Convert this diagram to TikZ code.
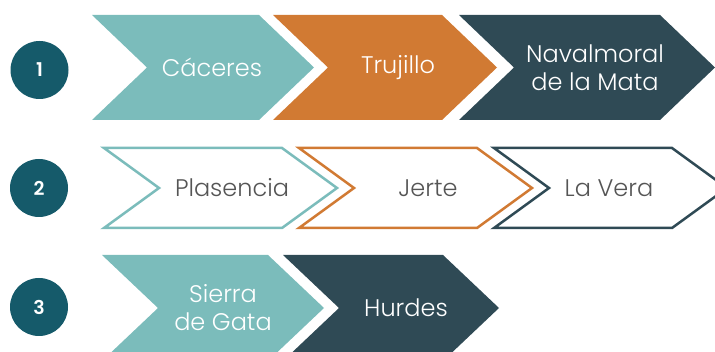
\documentclass[tikz,border=0pt]{standalone}
\usepackage{fontspec}
\setmainfont{Poppins}[UprightFont=* Light, BoldFont=* SemiBold]
\usepackage{tikz}

\definecolor{cteal}{HTML}{7BBCBB}
\definecolor{corange}{HTML}{D17A33}
\definecolor{cslate}{HTML}{2F4A55}
\definecolor{cdeep}{HTML}{155A6A}
\definecolor{cgray}{HTML}{555555}

\tikzset{
  full/.style={fill=#1},
  rim/.style={draw=#1, line width=2.5pt, fill=white},
  lbl/.style={text=white, font=\fontsize{24}{28}\selectfont, align=center, inner sep=0pt},
  num/.style={circle, fill=cdeep, text=white, minimum size=58pt, inner sep=0pt,
    font=\fontsize{19}{22}\selectfont\bfseries}
}

% #1 name, #2 left x, #3 right x, #4 mid y, #5 style, #6 label x, #7 label
\newcommand{\chev}[7]{%
  \path[#5] (#2,{#4-\hh}) -- (#3,{#4-\hh}) -- ({#3+\dd},#4) -- (#3,{#4+\hh})
    -- (#2,{#4+\hh}) -- ({#2+\dd},#4) -- cycle;
  \node[lbl] (#1) at (#6,#4) {#7};
}

\begin{document}
\begin{tikzpicture}[x=1pt, y=-1pt]
  \clip (0,0) rectangle (715,352);

  % row 1
  \def\hh{52.5}\def\dd{55}
  \node[num] (one) at (39.5,70) {1};
  \chev{caceres}{92}{259}{67.5}{full=cteal}{212}{Cáceres}
  \chev{trujillo}{273}{442}{67.5}{full=corange}{398}{Trujillo}
  \chev{navalmoral}{459}{660}{67.5}{full=cslate}{595}{Navalmoral\\de la Mata}

  % row 2
  \def\hh{40}\def\dd{55}
  \node[num] (two) at (39,188) {2};
  \begin{scope}[lbl/.append style={text=cgray}]
    \chev{plasencia}{104}{282}{188}{rim=cteal}{232}{Plasencia}
    \chev{jerte}{299}{477}{188}{rim=corange}{428}{Jerte}
    \chev{lavera}{494}{672}{188}{rim=cslate}{609}{La Vera}
  \end{scope}

  % row 3
  \def\hh{53}\def\dd{56}
  \node[num] (three) at (39,307) {3};
  \chev{sierra}{102}{268}{308}{full=cteal}{223}{Sierra\\de Gata}
  \chev{hurdes}{283}{443}{308}{full=cslate}{406}{Hurdes}
\end{tikzpicture}
\end{document}
